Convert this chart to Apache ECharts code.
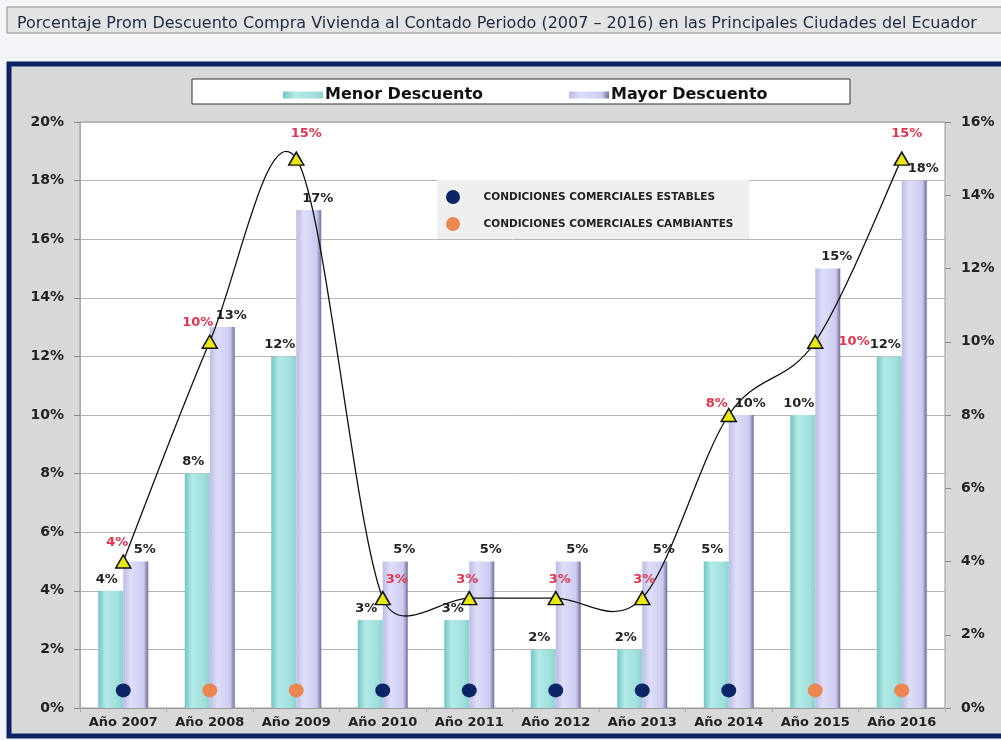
<!DOCTYPE html>
<html>
<head>
<meta charset="utf-8">
<script src="https://cdn.jsdelivr.net/npm/echarts@6/dist/echarts.min.js"></script>
<style>
  html, body { margin: 0; padding: 0; background: #f2f4f7; }
  #chart { width: 1001px; height: 740px; }
</style>
</head>
<body>
<div id="chart"></div>
<script>
// datos
const years = ["Año 2007", "Año 2008", "Año 2009", "Año 2010", "Año 2011",
  "Año 2012", "Año 2013", "Año 2014", "Año 2015", "Año 2016"];
const menorDescuento = [4, 8, 12, 3, 3, 2, 2, 5, 10, 12];
const mayorDescuento = [5, 13, 17, 5, 5, 5, 5, 10, 15, 18];
const promedio = [4, 10, 15, 3, 3, 3, 3, 8, 10, 15];
// E = estables, C = cambiantes
const condiciones = ["E", "C", "C", "E", "E", "E", "E", "E", "C", "C"];
const nivelPunto = 0.6;
const leftTicks = [0, 20, 2];
const rightTicks = [0, 16, 2];

// posiciones de etiquetas rojas (estilo)
const promLabelStyle = [
  { position: "top", offset: [-6, 0] },
  { position: "top", offset: [-12, 0] },
  { position: "top", offset: [10, -6] },
  { position: "top", offset: [14, 0] },
  { position: "top", offset: [-2, 0] },
  { position: "top", offset: [4, 0] },
  { position: "top", offset: [2, 0] },
  { position: "top", offset: [-12, 7] },
  { position: "right", offset: [10, 0] },
  { position: "top", offset: [5, -6] },
];

const FONT = "'DejaVu Sans', 'Liberation Sans', sans-serif";
const chart = echarts.init(document.getElementById("chart"));

const menorColor = new echarts.graphic.LinearGradient(0, 0, 1, 0, [
  { offset: 0, color: "#74c4c2" },
  { offset: 0.3, color: "#b2eae7" },
  { offset: 0.75, color: "#a2e0dd" },
  { offset: 1, color: "#8cd2cf" },
]);
const mayorColor = new echarts.graphic.LinearGradient(0, 0, 1, 0, [
  { offset: 0, color: "#bcbce6" },
  { offset: 0.3, color: "#dedef9" },
  { offset: 0.82, color: "#cbcbf1" },
  { offset: 1, color: "#6e6e98" },
]);

const condSeries = (tipo, name, color) => ({
  name: name,
  type: "scatter",
  yAxisIndex: 0,
  symbol: "circle",
  symbolSize: [15, 14],
  itemStyle: { color: color, opacity: 1 },
  z: 5,
  data: condiciones.map(c => (c === tipo ? nivelPunto : "-")),
});

// curva suavizada tipo Excel (bezier, tangente 1/6 limitada por el tramo)
function renderCurva(params, api) {
  const i = params.dataIndex;
  if (i >= promedio.length - 1) return null;
  const pt = j => {
    const k = Math.max(0, Math.min(promedio.length - 1, j));
    return api.coord([k, promedio[k]]);
  };
  const dist = (a, b) => Math.hypot(a[0] - b[0], a[1] - b[1]);
  const p0 = pt(i - 1), p1 = pt(i), p2 = pt(i + 1), p3 = pt(i + 2);
  const seg = dist(p1, p2);
  const d1 = dist(p0, p2) || 1;
  const d2 = dist(p1, p3) || 1;
  const f1 = Math.min(1 / 6, (0.5 * seg) / d1);
  const f2 = Math.min(1 / 6, (0.5 * seg) / d2);
  return {
    type: "bezierCurve",
    shape: {
      x1: p1[0], y1: p1[1],
      x2: p2[0], y2: p2[1],
      cpx1: p1[0] + (p2[0] - p0[0]) * f1,
      cpy1: p1[1] + (p2[1] - p0[1]) * f1,
      cpx2: p2[0] - (p3[0] - p1[0]) * f2,
      cpy2: p2[1] - (p3[1] - p1[1]) * f2,
    },
    style: { stroke: "#111", lineWidth: 1.3, fill: null },
  };
}

const boldText = { fontFamily: FONT, fontSize: 13, fontWeight: "bold", color: "#222" };
const axisText = { fontFamily: FONT, fontSize: 14, fontWeight: "bold", color: "#222" };

const option = {
  animation: false,
  textStyle: { fontFamily: FONT },
  title: {
    text: "Porcentaje Prom Descuento Compra Vivienda al Contado Periodo (2007 – 2016) en las Principales Ciudades del Ecuador",
    left: 12,
    top: 11,
    textStyle: {
      fontFamily: "'DejaVu Sans', sans-serif",
      fontSize: 16,
      fontWeight: "normal",
      color: "#1c2a44",
    },
  },
  graphic: [
    {
      type: "rect",
      z: -10,
      shape: { x: 7, y: 7, width: 1000, height: 26 },
      style: { fill: "#e3e3e3", stroke: "#8e8e8e", lineWidth: 1 },
    },
    {
      type: "rect",
      z: -10,
      shape: { x: 9, y: 64, width: 996, height: 672 },
      style: { fill: "#d8d8d8", stroke: "#0b2463", lineWidth: 5 },
    },
    {
      type: "rect",
      z: -5,
      shape: { x: 192, y: 79, width: 658, height: 25 },
      style: { fill: "#ffffff", stroke: "#333", lineWidth: 1 },
    },
  ],
  legend: [
    {
      data: ["Menor Descuento", "Mayor Descuento"],
      left: 278,
      top: 82,
      itemWidth: 40,
      itemHeight: 7,
      itemGap: 86,
      icon: "rect",
      textStyle: { fontFamily: FONT, fontSize: 16, fontWeight: "bold", color: "#111", padding: [0, 0, 0, -3] },
    },
    {
      data: ["CONDICIONES COMERCIALES ESTABLES", "CONDICIONES COMERCIALES CAMBIANTES"],
      orient: "vertical",
      left: 437,
      top: 180,
      padding: [10, 16, 8, 9],
      itemGap: 13,
      itemWidth: 15,
      itemHeight: 14,
      backgroundColor: "#efefef",
      textStyle: { fontFamily: FONT, fontSize: 10.5, fontWeight: "bold", color: "#222", padding: [0, 0, 0, 18] },
    },
  ],
  grid: {
    left: 80,
    right: 56,
    top: 122,
    bottom: 32,
    show: true,
    backgroundColor: "#ffffff",
    borderColor: "#9a9a9a",
    borderWidth: 1,
  },
  xAxis: {
    type: "category",
    data: years,
    axisLine: { lineStyle: { color: "#999" } },
    axisTick: { show: true, length: 4, lineStyle: { color: "#aaa" } },
    axisLabel: Object.assign({ margin: 8, interval: 0 }, boldText),
  },
  yAxis: [
    {
      type: "value",
      min: leftTicks[0],
      max: leftTicks[1],
      interval: leftTicks[2],
      axisLine: { show: true, lineStyle: { color: "#aaa" } },
      axisTick: { show: true, length: 6, lineStyle: { color: "#888" } },
      splitLine: { lineStyle: { color: "#b5b5b5" } },
      axisLabel: Object.assign({ formatter: "{value}%", margin: 16 }, axisText),
    },
    {
      type: "value",
      min: rightTicks[0],
      max: rightTicks[1],
      interval: rightTicks[2],
      position: "right",
      axisLine: { show: false },
      axisTick: { show: true, length: 6, lineStyle: { color: "#888" } },
      splitLine: { show: false },
      axisLabel: Object.assign({ formatter: "{value}%", margin: 16 }, axisText),
    },
  ],
  series: [
    {
      name: "Menor Descuento",
      type: "bar",
      barWidth: 25,
      barGap: "0%",
      itemStyle: { color: menorColor },
      label: Object.assign({ show: true, position: "top", offset: [-4, 0], formatter: "{c}%" }, boldText),
      data: menorDescuento,
    },
    {
      name: "Mayor Descuento",
      type: "bar",
      barWidth: 25,
      itemStyle: { color: mayorColor },
      label: Object.assign({ show: true, position: "top", offset: [9, 0], formatter: "{c}%" }, boldText),
      data: mayorDescuento,
    },
    {
      name: "Curva",
      type: "custom",
      yAxisIndex: 1,
      z: 9,
      silent: true,
      renderItem: renderCurva,
      data: promedio,
    },
    {
      name: "Promedio",
      type: "line",
      yAxisIndex: 1,
      symbol: "triangle",
      symbolSize: [15, 13],
      z: 10,
      lineStyle: { opacity: 0 },
      itemStyle: { color: "#e8e817", borderColor: "#111", borderWidth: 1.5 },
      label: {
        show: true,
        formatter: "{c}%",
        fontFamily: FONT,
        fontSize: 13,
        fontWeight: "bold",
        color: "#e0354f",
      },
      data: promedio.map((v, i) => ({ value: v, label: promLabelStyle[i] })),
    },
    condSeries("E", "CONDICIONES COMERCIALES ESTABLES", "#0c2566"),
    condSeries("C", "CONDICIONES COMERCIALES CAMBIANTES", "#ec8650"),
  ],
};

chart.setOption(option);
</script>
</body>
</html>
